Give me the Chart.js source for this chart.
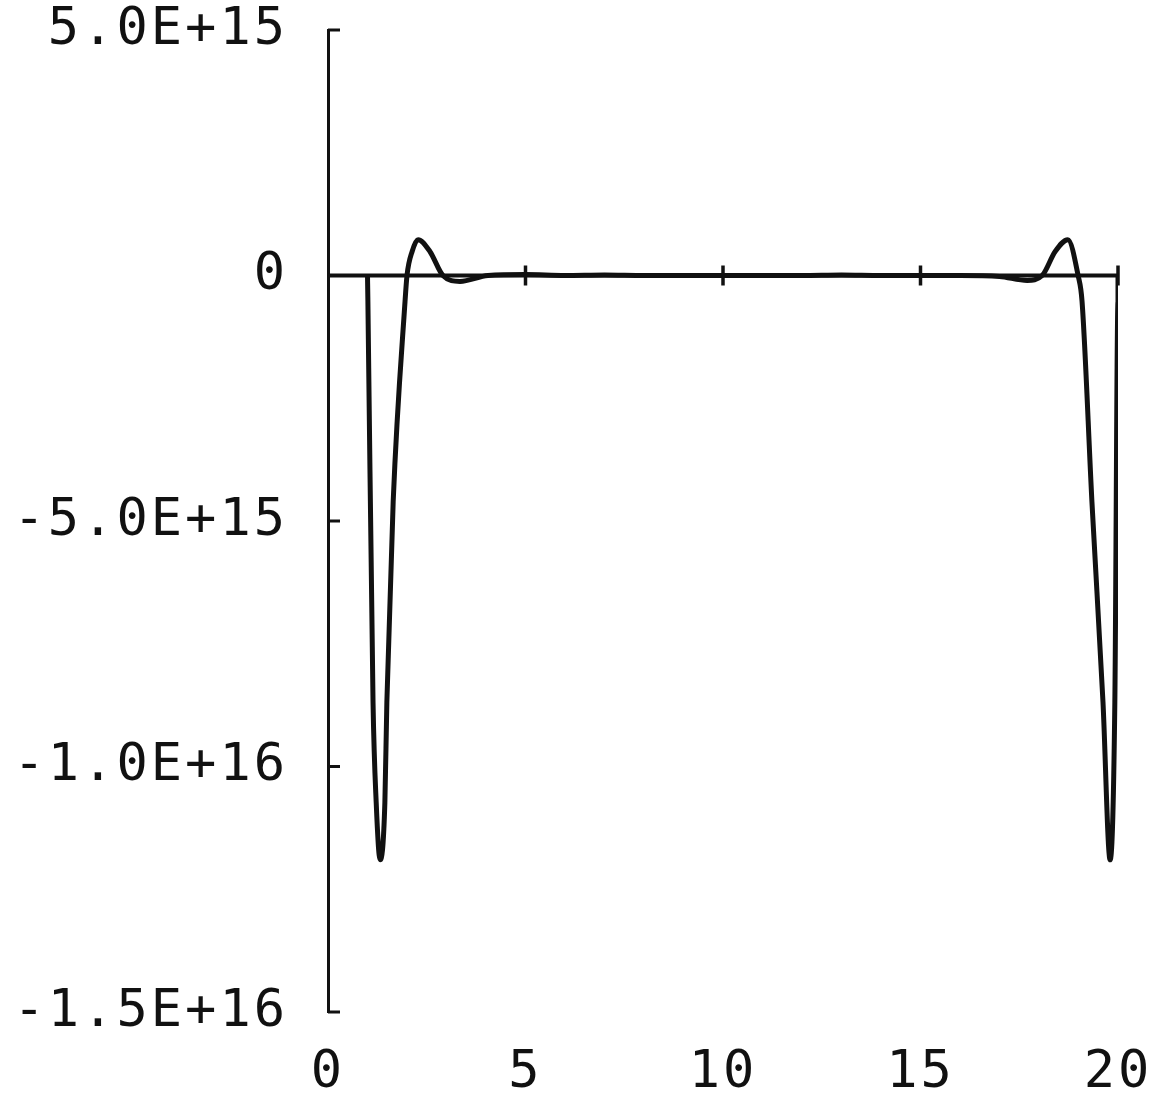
<!DOCTYPE html>
<html>
<head>
<meta charset="utf-8">
<script src="https://cdn.jsdelivr.net/npm/chart.js@4.4.1/dist/chart.umd.min.js"></script>
<style>
  html, body { margin: 0; padding: 0; background: #ffffff; }
  #wrap { width: 1158px; height: 1100px; }
</style>
</head>
<body>
<div id="wrap"><canvas id="c" width="1158" height="1100"></canvas></div>
<script>
// x positions of the plotted curve
const xValues = [1.0, 1.01, 1.14, 1.22, 1.32, 1.44, 1.49, 1.65, 1.95, 2.0, 2.13, 2.28, 2.58, 2.91, 3.34, 4.05,
  5, 6, 7, 8, 9, 10, 11, 12, 13, 14, 15, 16, 17,
  17.7, 18.08, 18.41, 18.73, 18.99, 19.09, 19.34, 19.62, 19.8, 19.92, 20.0, 20.0];
// y values in units of 1E15
const yValuesE15 = [0, -0.53, -8.69, -10.73, -11.9, -10.73, -8.69, -4.61, -0.53, 0, 0.49, 0.73, 0.49, 0, -0.12, 0,
  0.02, 0, 0.01, 0, 0, 0, 0, 0, 0.01, 0, 0, 0, -0.02,
  -0.1, 0, 0.49, 0.73, 0, -0.53, -4.61, -8.69, -11.9, -8.69, -0.53, 0];
const yTicks = [5.0e15, 0, -5.0e15, -1.0e16, -1.5e16];
const yTickLabels = ['5.0E+15', '0', '-5.0E+15', '-1.0E+16', '-1.5E+16'];
const xTicks = [0, 5, 10, 15, 20];
const xTickLabels = ['0', '5', '10', '15', '20'];
const xAxisMarks = [5, 10, 15, 20];

const points = xValues.map((x, i) => ({ x: x, y: yValuesE15[i] * 1e15 }));
const INK = '#111111';

const axisPlugin = {
  id: 'axisPlugin',
  beforeDraw(chart) {
    const ctx = chart.ctx;
    ctx.save();
    ctx.fillStyle = '#ffffff';
    ctx.fillRect(0, 0, chart.width, chart.height);
    ctx.restore();
    ctx.letterSpacing = '3px';
  },
  afterDatasetsDraw(chart) {
    const ctx = chart.ctx;
    const xs = chart.scales.x, ys = chart.scales.y;
    ctx.save();
    ctx.strokeStyle = INK;
    ctx.lineCap = 'butt';
    const y0 = ys.getPixelForValue(0);
    ctx.lineWidth = 4;
    ctx.beginPath();
    ctx.moveTo(xs.getPixelForValue(0), y0);
    ctx.lineTo(xs.getPixelForValue(20), y0);
    ctx.stroke();
    ctx.lineWidth = 3.5;
    xAxisMarks.forEach(v => {
      const px = xs.getPixelForValue(v);
      ctx.beginPath();
      ctx.moveTo(px, y0 - 10);
      ctx.lineTo(px, y0 + 10);
      ctx.stroke();
    });
    ctx.lineWidth = 3;
    const ax = chart.chartArea.left;
    yTicks.forEach(v => {
      const py = ys.getPixelForValue(v);
      ctx.beginPath();
      ctx.moveTo(ax, py);
      ctx.lineTo(ax + 12, py);
      ctx.stroke();
    });
    ctx.restore();
  }
};

new Chart(document.getElementById('c'), {
  type: 'scatter',
  data: {
    datasets: [{
      data: points,
      showLine: true,
      borderColor: INK,
      borderWidth: 5,
      pointRadius: 0,
      cubicInterpolationMode: 'monotone',
      fill: false
    }]
  },
  options: {
    responsive: false,
    animation: false,
    devicePixelRatio: 1,
    layout: { padding: { top: 30, right: 40, left: 0, bottom: 0 } },
    plugins: { legend: { display: false }, tooltip: { enabled: false } },
    scales: {
      x: {
        type: 'linear',
        min: 0, max: 20,
        afterBuildTicks(scale) { scale.ticks = xTicks.map(v => ({ value: v })); },
        afterFit(scale) { scale.height = 88; scale.paddingLeft = 0; scale.paddingRight = 0; },
        grid: { display: false, drawTicks: false },
        border: { display: false },
        ticks: {
          color: INK,
          padding: 30,
          maxRotation: 0,
          autoSkip: false,
          font: { family: 'DejaVu Sans Mono', size: 52 },
          callback: (v) => { const i = xTicks.indexOf(v); return i >= 0 ? xTickLabels[i] : ''; }
        }
      },
      y: {
        type: 'linear',
        min: -1.5e16, max: 5e15,
        afterBuildTicks(scale) { scale.ticks = yTicks.map(v => ({ value: v })); },
        afterFit(scale) { scale.width = 328; scale.paddingTop = 0; scale.paddingBottom = 0; },
        grid: { display: false, drawTicks: false },
        border: { display: true, color: INK, width: 3 },
        ticks: {
          color: INK,
          padding: 40,
          autoSkip: false,
          font: { family: 'DejaVu Sans Mono', size: 52 },
          callback: (v) => { const i = yTicks.indexOf(v); return i >= 0 ? yTickLabels[i] : ''; }
        }
      }
    }
  },
  plugins: [axisPlugin]
});
</script>
</body>
</html>
